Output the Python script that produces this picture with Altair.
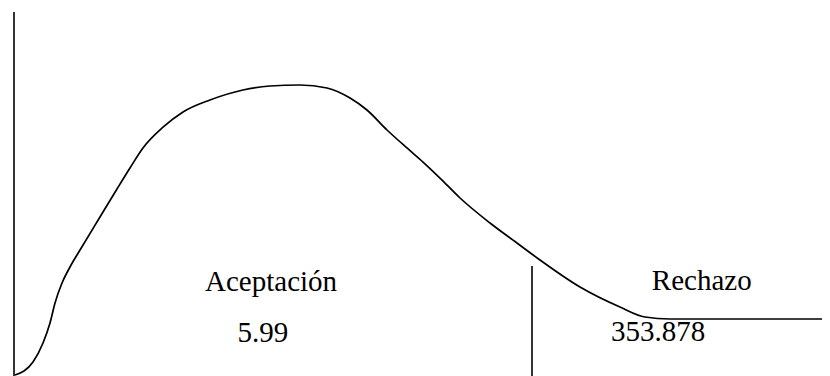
import altair as alt
import pandas as pd

# Curve (density-like shape), arbitrary units 0-100
curve_x = [0.85, 3.04, 4.26, 5.11, 5.72, 6.57, 7.54, 8.76, 11.19, 13.26, 14.84, 16.42,
           18.86, 21.29, 24.57, 28.59, 31.87, 35.52, 38.81, 41.61, 43.67, 46.11, 48.54,
           50.49, 52.55, 54.99, 58.64, 61.92, 64.72, 69.59, 74.45, 77.49, 80.54, 85.77, 100.0]
curve_y = [0.27, 3.80, 8.97, 14.40, 19.84, 25.27, 29.62, 34.24, 43.21, 50.82, 56.52, 61.96,
           67.6, 71.74, 75.00, 77.72, 78.80, 79.08, 78.26, 75.54, 72.28, 66.85, 61.96,
           58.15, 53.80, 48.37, 41.58, 36.14, 31.52, 24.18, 18.75, 16.03, 15.49, 15.49, 15.49]

# Vertical lines: left axis and critical boundary
rule_x = [0.73, 63.75]
rule_y0 = [0, 0]
rule_y1 = [98.9, 29.9]

# Labels
label_text = ["Aceptación", "5.99", "Rechazo", "353.878"]
label_x = [32.0, 31.0, 84.4, 79.1]
label_y = [23.1, 9.3, 23.4, 9.5]

curve_df = pd.DataFrame({"x": curve_x, "y": curve_y})
rule_df = pd.DataFrame({"x": rule_x, "y0": rule_y0, "y1": rule_y1})
label_df = pd.DataFrame({"t": label_text, "x": label_x, "y": label_y})

xs = alt.Scale(domain=[0, 99.03], nice=False, zero=False)
ys = alt.Scale(domain=[0, 100], nice=False, zero=False)

line = alt.Chart(curve_df).mark_line(
    interpolate="monotone", color="black", strokeWidth=1.7, clip=True
).encode(
    x=alt.X("x:Q", scale=xs, axis=None),
    y=alt.Y("y:Q", scale=ys, axis=None),
)

rules = alt.Chart(rule_df).mark_rule(color="black", strokeWidth=1.6).encode(
    x=alt.X("x:Q", scale=xs, axis=None),
    y=alt.Y("y0:Q", scale=ys, axis=None),
    y2="y1:Q",
)

labels = alt.Chart(label_df).mark_text(
    font="Times New Roman", fontSize=29, color="black",
    align="center", baseline="alphabetic"
).encode(
    x=alt.X("x:Q", scale=xs, axis=None),
    y=alt.Y("y:Q", scale=ys, axis=None),
    text="t:N",
)

chart = (line + rules + labels).properties(
    width=814, height=368, padding=0,
    autosize=alt.AutoSizeParams(type="none"),
).configure_view(stroke=None)

chart.save("out.html", embed_options={"renderer": "svg", "actions": False})
